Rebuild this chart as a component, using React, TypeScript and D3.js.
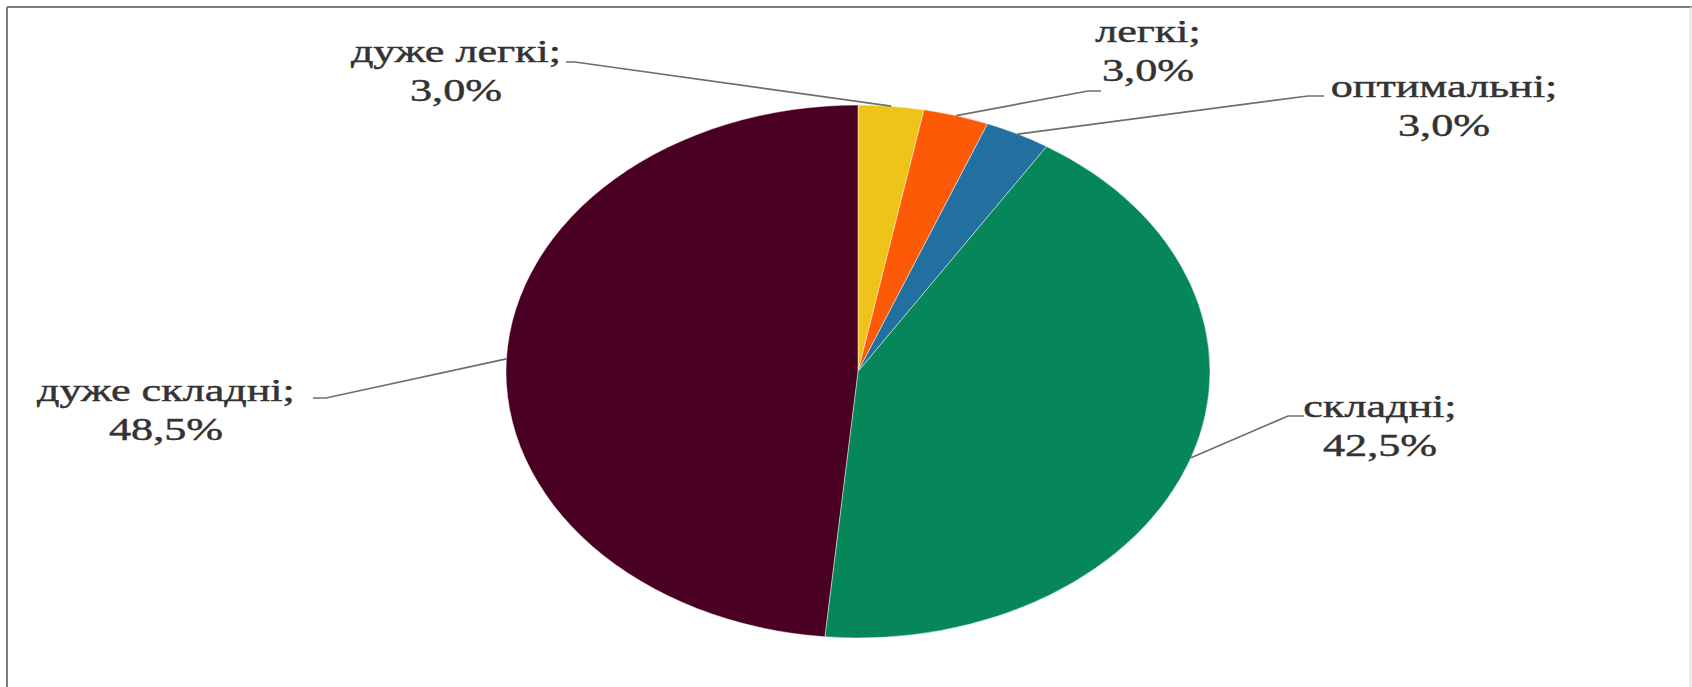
import React from "react";
import * as d3 from "d3";

const categories = ["дуже легкі", "легкі", "оптимальні", "складні", "дуже складні"];
const values = [3.0, 3.0, 3.0, 42.5, 48.5];
const valueLabels = ["3,0%", "3,0%", "3,0%", "42,5%", "48,5%"];
const colors = ["#EFC318", "#FC5A06", "#21709F", "#05875A", "#4A0022"];

// label layout: center x, first-line baseline, leader path bend points
const labelCenters = [456, 1148, 1444, 1380, 166];
const labelBaselines = [62, 42, 97, 417, 401];
const leaderEnds: [number, number][][] = [
  [[575, 62], [566, 62]],
  [[1088, 91], [1101, 91]],
  [[1308, 96], [1324, 96]],
  [[1288, 416], [1304, 416]],
  [[326, 398], [313, 398]],
];

const W = 1692;
const H = 687;
const cx = 858;
const cy = 371.5;
const rx = 352;
const ry = 266.5;
const sx = rx / ry;
const fontSize = 32;
const textStretch = 1.38;
const lineGap = 39;

export default function App() {
  const pie = d3.pie<number>().sort(null).value((d) => d)(values);
  const arc = d3.arc<d3.PieArcDatum<number>>().innerRadius(0).outerRadius(ry);

  return (
    <svg
      width={W}
      height={H}
      style={{ position: "absolute", left: 0, top: 0, display: "block", background: "#fff" }}
    >
      <rect x={0} y={0} width={W} height={H} fill="#fff" />
      <line x1={7} y1={7} x2={W} y2={7} stroke="#7d7d7d" strokeWidth={2} />
      <line x1={7} y1={7} x2={7} y2={H} stroke="#7d7d7d" strokeWidth={2} />
      <line x1={W - 1.5} y1={7} x2={W - 1.5} y2={H} stroke="#dcdcdc" strokeWidth={1.5} />

      <g transform={`translate(${cx},${cy}) scale(${sx},1)`}>
        {pie.map((p, i) => (
          <path key={i} d={arc(p) || ""} fill={colors[i]} stroke="#ffffff" strokeWidth={0.4} />
        ))}
      </g>

      {pie.map((p, i) => {
        const mid = (p.startAngle + p.endAngle) / 2;
        const ex = cx + rx * Math.sin(mid);
        const ey = cy - ry * Math.cos(mid);
        const pts = [[ex, ey], ...leaderEnds[i]] as [number, number][];
        const line = d3.line()(pts) || "";
        return <path key={"l" + i} d={line} fill="none" stroke="#6e6e6e" strokeWidth={1.7} />;
      })}

      {categories.map((c, i) => (
        <g
          key={"t" + i}
          fill="#333333"
          stroke="#333333"
          strokeWidth={0.45}
          fontFamily="'Liberation Serif', 'Times New Roman', serif"
          fontSize={fontSize}
        >
          <text transform={`translate(${labelCenters[i]},${labelBaselines[i]}) scale(${textStretch},1)`} textAnchor="middle">
            {c + ";"}
          </text>
          <text transform={`translate(${labelCenters[i]},${labelBaselines[i] + lineGap}) scale(${textStretch},1)`} textAnchor="middle">
            {valueLabels[i]}
          </text>
        </g>
      ))}
    </svg>
  );
}
